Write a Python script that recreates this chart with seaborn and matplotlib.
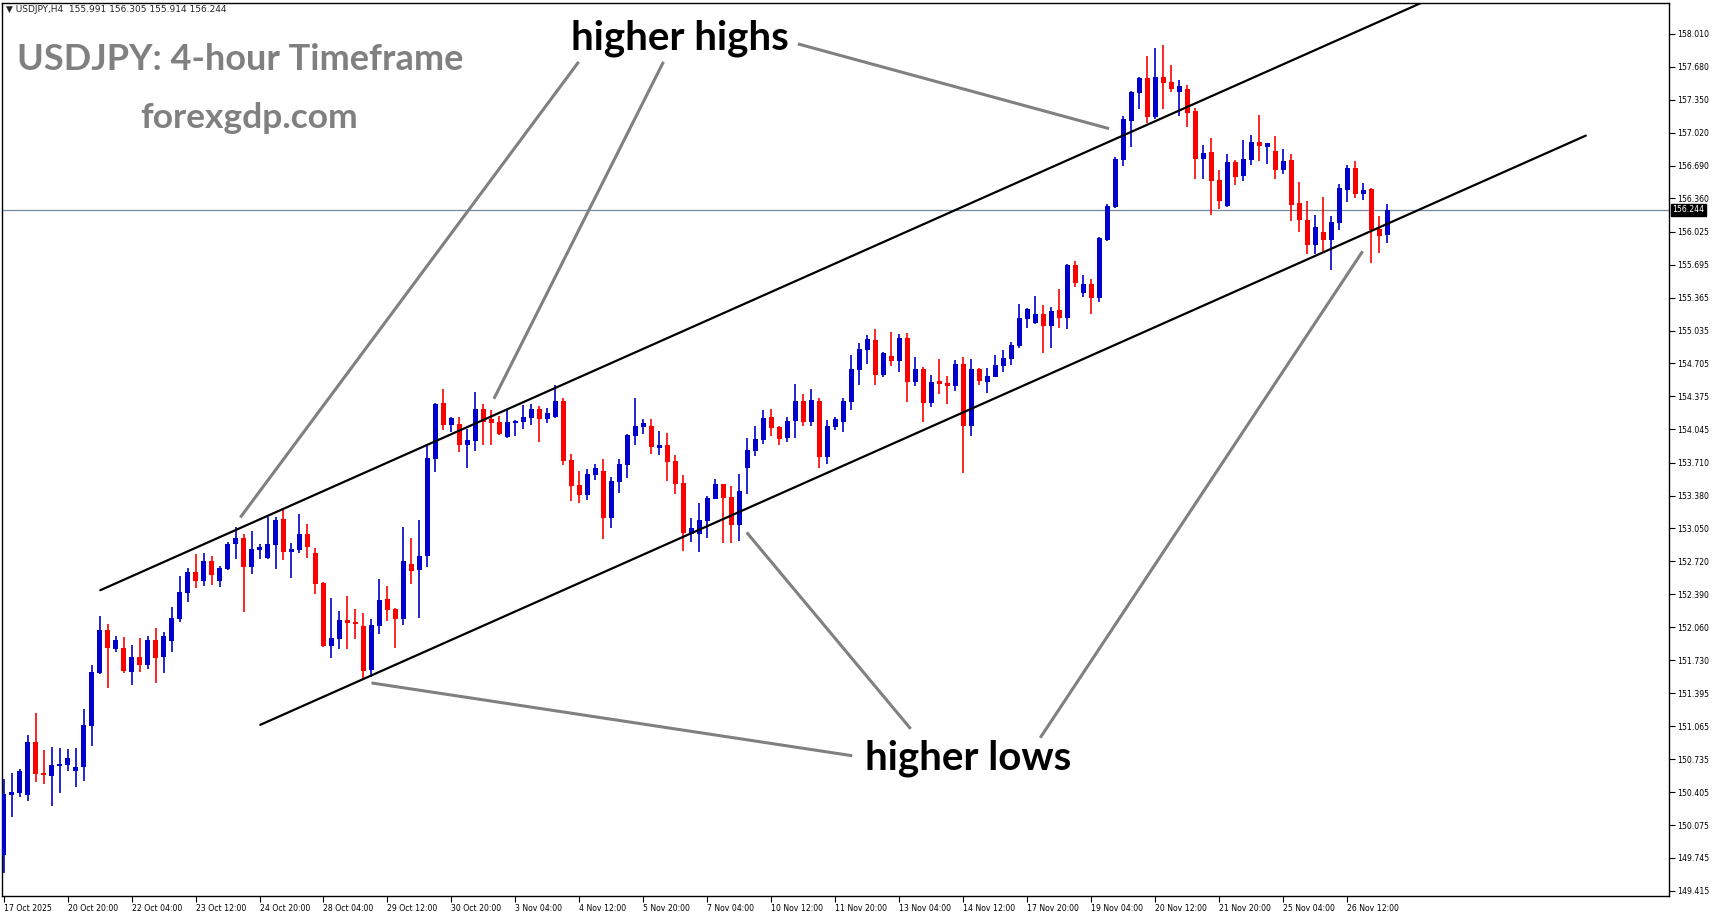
import matplotlib
matplotlib.use("Agg")
import matplotlib.pyplot as plt
import numpy as np
import pandas as pd
import seaborn as sns

# OHLC, one row per candle
opens = [149.774, 150.380, 150.400, 150.380, 150.908, 150.597, 150.571, 150.671, 150.678, 150.621,
         150.661, 151.072, 151.604, 152.031, 151.844, 151.851, 151.614, 151.761, 151.684, 151.931,
         151.764, 151.925, 152.145, 152.406, 152.613, 152.526, 152.723, 152.526, 152.647, 152.894,
         152.954, 152.666, 152.834, 152.757, 152.884, 153.145, 152.817, 152.837, 152.994, 152.803,
         152.506, 151.874, 151.944, 152.131, 152.111, 152.075, 151.633, 152.075, 152.345, 152.245,
         152.145, 152.697, 152.636, 152.777, 153.750, 154.308, 154.091, 154.101, 153.890, 153.927,
         154.248, 154.147, 154.117, 153.967, 154.107, 154.117, 154.157, 154.248, 154.147, 154.167,
         154.328, 153.736, 153.485, 153.385, 153.586, 153.626, 153.155, 153.516, 153.686, 153.977,
         154.067, 154.077, 153.857, 153.887, 153.726, 153.505, 152.994, 152.994, 153.128, 153.348,
         153.496, 153.365, 153.088, 153.659, 153.830, 153.940, 154.167, 154.067, 153.960, 154.131,
         154.328, 154.121, 154.328, 153.770, 154.071, 154.121, 154.321, 154.642, 154.843, 154.940,
         154.589, 154.779, 154.732, 154.960, 154.522, 154.649, 154.311, 154.529, 154.508, 154.482,
         154.699, 154.081, 154.649, 154.522, 154.572, 154.682, 154.753, 154.883, 155.154, 155.114,
         155.201, 155.084, 155.241, 155.164, 155.692, 155.415, 155.502, 155.365, 155.946, 156.277,
         156.748, 157.140, 157.420, 157.568, 157.180, 157.578, 157.527, 157.427, 157.457, 157.237,
         156.755, 156.825, 156.545, 156.284, 156.725, 156.585, 156.745, 156.926, 156.875, 156.835,
         156.645, 156.745, 156.314, 156.143, 155.896, 156.023, 155.946, 156.117, 156.448, 156.665,
         156.407, 156.454, 156.053, 155.991]
highs = [150.537, 150.594, 150.637, 150.978, 151.199, 150.828, 150.858, 150.848, 150.838, 150.848,
         151.239, 151.680, 152.172, 152.092, 151.971, 151.961, 151.881, 151.951, 151.971, 152.052,
         152.011, 152.262, 152.573, 152.653, 152.794, 152.804, 152.774, 152.673, 152.914, 153.065,
         152.994, 153.024, 152.894, 153.165, 153.165, 153.255, 152.904, 153.195, 153.094, 152.854,
         152.516, 152.356, 152.225, 152.376, 152.245, 152.205, 152.145, 152.546, 152.476, 152.250,
         153.064, 152.954, 153.134, 153.880, 154.310, 154.448, 154.171, 154.168, 154.050, 154.418,
         154.298, 154.238, 154.177, 154.238, 154.137, 154.288, 154.298, 154.278, 154.258, 154.488,
         154.358, 153.796, 153.626, 153.646, 153.696, 153.746, 153.566, 153.746, 153.995, 154.358,
         154.147, 154.147, 154.027, 154.007, 153.786, 153.586, 153.155, 153.305, 153.378, 153.546,
         153.500, 153.475, 153.596, 153.957, 154.077, 154.238, 154.248, 154.081, 154.167, 154.498,
         154.398, 154.448, 154.358, 154.137, 154.171, 154.358, 154.789, 154.910, 154.990, 155.050,
         154.823, 155.020, 155.000, 155.010, 154.769, 154.672, 154.589, 154.749, 154.579, 154.739,
         154.769, 154.749, 154.659, 154.659, 154.789, 154.839, 154.920, 155.301, 155.261, 155.381,
         155.291, 155.271, 155.451, 155.702, 155.732, 155.592, 155.552, 155.970, 156.304, 156.779,
         157.186, 157.437, 157.581, 157.788, 157.868, 157.899, 157.698, 157.547, 157.497, 157.267,
         156.896, 156.966, 156.645, 156.805, 156.745, 156.946, 156.996, 157.196, 156.920, 156.986,
         156.855, 156.805, 156.524, 156.334, 156.193, 156.374, 156.183, 156.504, 156.695, 156.735,
         156.514, 156.460, 156.183, 156.305]
lows = [149.597, 150.159, 150.360, 150.320, 150.510, 150.487, 150.270, 150.400, 150.621, 150.460,
        150.520, 150.872, 151.590, 151.453, 151.814, 151.604, 151.483, 151.614, 151.644, 151.503,
        151.604, 151.814, 152.115, 152.312, 152.456, 152.476, 152.486, 152.466, 152.637, 152.744,
        152.215, 152.593, 152.747, 152.747, 152.646, 152.737, 152.556, 152.807, 152.757, 152.396,
        151.864, 151.754, 151.844, 151.844, 151.944, 151.543, 151.563, 151.994, 152.125, 151.854,
        152.085, 152.496, 152.155, 152.666, 153.619, 154.040, 154.020, 153.820, 153.653, 153.826,
        153.887, 153.887, 153.990, 153.960, 153.977, 154.047, 154.087, 153.917, 154.107, 154.157,
        153.686, 153.325, 153.305, 153.335, 153.536, 152.944, 153.054, 153.405, 153.556, 153.887,
        153.997, 153.796, 153.786, 153.525, 153.395, 152.824, 152.914, 152.814, 152.957, 153.340,
        152.907, 152.907, 152.927, 153.398, 153.780, 153.897, 153.977, 153.887, 153.920, 153.960,
        154.081, 154.081, 153.659, 153.699, 154.040, 154.020, 154.238, 154.492, 154.702, 154.492,
        154.572, 154.682, 154.622, 154.321, 154.482, 154.121, 154.271, 154.402, 154.301, 154.432,
        153.609, 153.980, 154.492, 154.411, 154.565, 154.622, 154.692, 154.863, 155.064, 155.105,
        154.813, 154.863, 155.064, 155.053, 155.475, 155.375, 155.204, 155.324, 155.936, 156.267,
        156.688, 156.879, 157.260, 157.113, 157.160, 157.260, 157.431, 157.186, 157.076, 156.555,
        156.555, 156.193, 156.254, 156.275, 156.494, 156.534, 156.695, 156.735, 156.705, 156.555,
        156.605, 156.133, 156.023, 155.806, 155.806, 155.826, 155.645, 156.046, 156.327, 156.367,
        156.347, 155.715, 155.816, 155.914]
closes = [150.386, 150.403, 150.617, 150.908, 150.591, 150.581, 150.678, 150.688, 150.748, 150.658,
          151.079, 151.610, 152.031, 151.854, 151.931, 151.624, 151.761, 151.684, 151.931, 151.754,
          151.971, 152.152, 152.413, 152.613, 152.526, 152.723, 152.586, 152.653, 152.894, 152.954,
          152.666, 152.844, 152.864, 152.894, 153.135, 152.817, 152.844, 152.994, 152.867, 152.496,
          151.874, 151.954, 152.131, 152.105, 152.095, 151.623, 152.081, 152.335, 152.235, 152.145,
          152.723, 152.626, 152.774, 153.756, 154.298, 154.091, 154.158, 153.890, 153.937, 154.248,
          154.117, 154.107, 153.997, 154.117, 154.127, 154.167, 154.248, 154.147, 154.208, 154.328,
          153.726, 153.475, 153.385, 153.596, 153.656, 153.155, 153.526, 153.696, 153.987, 154.077,
          154.107, 153.867, 153.887, 153.716, 153.495, 153.004, 153.054, 153.134, 153.355, 153.496,
          153.358, 153.088, 153.425, 153.837, 153.947, 154.157, 154.061, 153.950, 154.127, 154.328,
          154.121, 154.338, 153.770, 154.077, 154.147, 154.328, 154.649, 154.850, 154.950, 154.589,
          154.809, 154.732, 154.960, 154.522, 154.649, 154.311, 154.522, 154.502, 154.482, 154.699,
          154.081, 154.649, 154.532, 154.579, 154.689, 154.759, 154.890, 155.160, 155.251, 155.201,
          155.084, 155.231, 155.164, 155.692, 155.515, 155.502, 155.365, 155.963, 156.284, 156.755,
          157.156, 157.427, 157.568, 157.180, 157.578, 157.521, 157.457, 157.487, 157.217, 156.755,
          156.815, 156.535, 156.334, 156.725, 156.575, 156.755, 156.926, 156.886, 156.916, 156.645,
          156.735, 156.294, 156.143, 155.896, 156.073, 155.946, 156.123, 156.464, 156.665, 156.407,
          156.444, 156.046, 155.986, 156.244]

price_ticks = [158.010, 157.680, 157.350, 157.020, 156.690, 156.360, 156.025, 155.695, 155.365,
               155.035, 154.705, 154.375, 154.045, 153.710, 153.380, 153.050, 152.720, 152.390,
               152.060, 151.730, 151.395, 151.065, 150.735, 150.405, 150.075, 149.745, 149.415]
time_labels = ["17 Oct 2025", "20 Oct 20:00", "22 Oct 04:00", "23 Oct 12:00", "24 Oct 20:00",
               "28 Oct 04:00", "29 Oct 12:00", "30 Oct 20:00", "3 Nov 04:00", "4 Nov 12:00",
               "5 Nov 20:00", "7 Nov 04:00", "10 Nov 12:00", "11 Nov 20:00", "13 Nov 04:00",
               "14 Nov 12:00", "17 Nov 20:00", "19 Nov 04:00", "20 Nov 12:00", "21 Nov 20:00",
               "25 Nov 04:00", "26 Nov 12:00"]
bars_per_label = 8
last_price = 156.244

# channel lines (bar index, price)
upper_x = [12.1, 177.2]
upper_y = [152.43, 158.32]
lower_x = [32.1, 197.8]
lower_y = [151.08, 156.99]

# pointer lines from the annotation labels
hh_pointers = [([71.9, 29.6], [157.73, 153.16]),
               ([82.5, 61.3], [157.73, 154.35]),
               ([99.3, 138.2], [157.91, 157.06])]
hl_pointers = [([46.0, 106.1], [151.50, 150.77]),
               ([92.9, 113.4], [153.01, 151.04]),
               ([129.6, 169.9], [150.95, 155.83])]

df = pd.DataFrame({"open": opens, "high": highs, "low": lows, "close": closes})
df["bar"] = np.arange(len(df))
df["up"] = df["close"] >= df["open"]

sns.set_style("white")
plt.rcParams["font.family"] = ["DejaVu Sans"]

W, H = 1714, 915
fig = plt.figure(figsize=(W / 100, H / 100), dpi=100)
ax = fig.add_axes([2 / W, (H - 896) / H, (1669 - 2) / W, (896 - 3) / H])

blue, red = "#0000cd", "#ff0000"
colors = np.where(df["up"], blue, red)

ax.axhline(last_price, color="#778899", lw=0.9, zorder=1)
ax.vlines(df["bar"], df["low"], df["high"], colors=colors, lw=1.2, zorder=2)
body_low = df[["open", "close"]].min(axis=1)
body_h = (df["close"] - df["open"]).abs().clip(lower=0.012)
ax.bar(df["bar"], body_h, bottom=body_low, width=0.62, color=colors, linewidth=0, zorder=3)

ax.plot(upper_x, upper_y, color="black", lw=1.6, zorder=4)
ax.plot(lower_x, lower_y, color="black", lw=1.6, zorder=4)
for xs, ys in hh_pointers + hl_pointers:
    ax.plot(xs, ys, color="#808080", lw=2.2, zorder=4, solid_capstyle="butt")

ax.set_xlim(-0.19, 208.2)
ax.set_ylim(149.363, 158.320)

ax.yaxis.tick_right()
ax.set_yticks(price_ticks)
ax.set_yticklabels([f"{p:.3f}" for p in price_ticks])
tick_pos = [k * bars_per_label for k in range(len(time_labels))]
ax.set_xticks(tick_pos)
ax.set_xticklabels(time_labels, ha="left")
ax.tick_params(axis="both", labelsize=5.6, length=4, width=0.8, colors="black", pad=2,
               bottom=True, right=True, left=False)
ax.grid(False)
for sp in ax.spines.values():
    sp.set_color("black")
    sp.set_linewidth(1.0)

# current price flag on the axis
ax.text(1.002, last_price, f"{last_price:.3f}", transform=ax.get_yaxis_transform(),
        va="center", ha="left", fontsize=5.6, color="white",
        bbox=dict(boxstyle="square,pad=0.2", fc="black", ec="black"))

fig.text(6 / W, 1 - 10 / H, "\u25bc USDJPY,H4  155.991 156.305 155.914 156.244",
         fontsize=6.5, va="center", ha="left")
fig.text(240 / W, 1 - 60 / H, "USDJPY: 4-hour Timeframe", fontsize=26, fontweight="bold",
         color="#808080", family="Lato", ha="center", va="center")
fig.text(249 / W, 1 - 118 / H, "forexgdp.com", fontsize=25.5, fontweight="bold",
         color="#808080", family="Lato", ha="center", va="center")
fig.text(680 / W, 1 - 38 / H, "higher highs", fontsize=29, fontweight="bold",
         color="black", family="Lato", ha="center", va="center")
fig.text(968 / W, 1 - 758 / H, "higher lows", fontsize=29, fontweight="bold",
         color="black", family="Lato", ha="center", va="center")

fig.savefig("out.png", dpi=100, facecolor="white")
